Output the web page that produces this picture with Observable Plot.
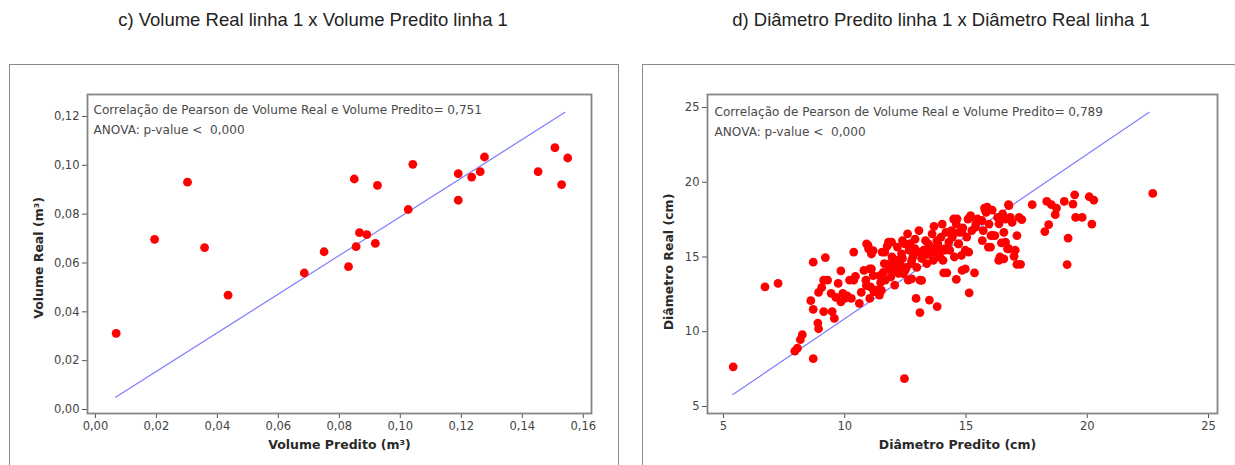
<!DOCTYPE html>
<html><head><meta charset="utf-8">
<script src="https://cdn.jsdelivr.net/npm/d3@7"></script>
<script src="https://cdn.jsdelivr.net/npm/@observablehq/plot@0.6"></script>
<style>
body{margin:0;background:#fff;}
#root{position:relative;width:1235px;height:465px;overflow:hidden;font-family:"Liberation Sans",Arial,sans-serif;background:#fff;}
.title{position:absolute;top:9px;font-size:18.5px;color:#222;white-space:nowrap;transform:translateX(-50%);}
.box{position:absolute;border:1.5px solid #8a8a8a;box-sizing:border-box;}
.plot{position:absolute;}
</style></head><body>
<div id="root">
 <div class="title" style="left:313px">c) Volume Real linha 1 x Volume Predito linha 1</div>
 <div class="title" style="left:941px">d) Diâmetro Predito linha 1 x Diâmetro Real linha 1</div>
 <div class="box" style="left:9px;top:64px;width:610px;height:420px"></div>
 <div class="box" style="left:642px;top:64px;width:620px;height:420px"></div>
 <div class="plot" id="p1" style="left:9px;top:65px"></div>
 <div class="plot" id="p2" style="left:642px;top:65px"></div>
</div>
<script>
// ---- Chart c) data ----
const volPred = [0.0068,0.0194,0.0302,0.0358,0.0435,0.0685,0.075,0.083,0.0849,0.0855,0.0866,0.089,0.0918,0.0925,0.1026,0.1041,0.119,0.119,0.1234,0.1262,0.1276,0.1452,0.1507,0.1529,0.1549];
const volReal = [0.0312,0.0697,0.0931,0.0663,0.0468,0.0559,0.0646,0.0585,0.0944,0.0667,0.0724,0.0716,0.068,0.0918,0.0819,0.1004,0.0966,0.0857,0.0952,0.0974,0.1034,0.0974,0.1072,0.0921,0.103];
const volFitX = [0.0066, 0.1540];
const volFitY = [0.0050, 0.1217];
const volTicksX = [0,0.02,0.04,0.06,0.08,0.10,0.12,0.14,0.16];
const volTicksY = [0,0.02,0.04,0.06,0.08,0.10,0.12];
const volNote = "Correlação de Pearson de Volume Real e Volume Predito= 0,751\nANOVA: p-value <  0,000";

// ---- Chart d) data ----
const diamPred = [5.40,6.71,7.25,7.94,8.05,8.17,8.25,8.6,8.7,8.7,
8.7,8.89,8.92,8.92,9.05,9.13,9.2,9.13,9.29,9.44,
9.48,9.57,9.63,9.73,9.84,9.84,9.92,10.0,10.1,10.2,
10.27,10.37,10.37,10.44,10.6,10.68,10.79,10.87,10.9,10.98,
11.03,11.06,11.1,11.1,11.2,11.35,11.43,11.48,11.54,11.59,
11.63,11.67,11.75,11.8,11.83,11.86,11.9,11.95,12.0,12.06,
12.1,12.14,12.17,12.22,12.3,12.38,12.38,12.46,12.49,12.54,
12.59,12.62,12.65,12.7,12.75,12.81,12.9,12.94,12.97,13.02,
13.06,13.1,13.1,13.17,13.25,13.33,13.38,13.44,13.49,13.54,
13.6,13.65,13.68,13.73,13.81,13.84,13.89,13.92,13.97,14.02,
14.05,14.08,14.13,14.17,14.21,14.29,14.33,14.4,14.44,14.49,
14.52,14.6,14.6,14.68,14.71,14.81,14.84,14.87,14.97,15.03,
15.08,15.13,15.19,15.24,15.35,15.4,15.48,15.6,15.67,15.71,
15.76,15.83,15.92,15.95,16.03,16.08,16.19,16.3,16.35,16.4,
16.46,16.51,16.56,16.62,16.71,16.75,16.83,16.9,16.98,17.03,
17.1,17.1,17.19,17.25,17.3,17.73,18.25,18.33,18.41,18.52,
18.68,18.73,19.05,19.21,19.17,19.41,19.48,19.52,19.79,20.08,
20.19,20.27,22.7,
10.96,11.17,11.03,11.17,10.89,11.44,11.65,11.93,12.07,12.21,
12.34,12.48,12.76,12.9,13.25,13.45,13.66,13.8,13.93,14.14,
14.42,14.63,14.7,14.83,14.97,15.11,15.18,15.39,15.66,15.8,
15.87,16.08,16.01,16.36,16.49,16.77,16.63,16.56,16.77,13.17,
12.76,12.42,11.51,11.31];
const diamReal = [7.65,13.0,13.23,8.7,8.9,9.47,9.8,12.08,11.5,14.65,
8.2,10.58,10.2,12.63,12.96,13.45,14.96,11.35,13.45,12.57,
11.35,10.9,12.3,13.23,14.07,12.0,12.57,12.23,12.4,13.45,
12.23,15.33,13.45,13.7,11.9,12.63,14.1,13.45,15.88,15.55,
12.23,13.0,14.2,15.2,12.67,12.8,12.45,13.3,15.33,13.97,
14.56,13.45,15.73,16.0,14.2,14.56,13.67,15.0,14.1,13.12,
14.3,14.78,15.66,13.9,14.45,16.1,14.9,6.86,14.1,14.3,
16.55,13.45,15.45,15.9,14.56,15.0,16.2,12.23,14.3,15.33,
16.77,13.45,11.28,14.9,15.45,16.1,14.56,15.17,12.12,15.66,
16.55,14.78,17.05,15.33,11.68,15.88,15.0,15.55,16.33,17.2,
14.78,13.94,15.45,16.65,13.94,16.0,15.45,16.77,16.33,17.54,
15.0,13.5,17.2,15.88,16.65,15.1,14.1,16.95,15.45,16.33,
17.54,12.6,17.77,16.77,13.94,17.2,17.54,17.43,16.1,16.77,
18.27,17.99,15.66,17.2,16.43,18.14,16.43,17.65,14.78,15.0,
15.95,17.88,16.65,17.54,15.55,18.5,17.65,17.32,15.04,15.45,
16.43,14.51,17.65,14.51,17.5,18.5,16.7,18.72,17.17,18.5,
17.83,18.27,18.72,16.26,14.49,18.54,19.16,17.65,17.65,19.03,
17.2,18.81,19.25,
15.77,15.43,14.21,13.76,13.09,13.76,15.32,15.99,14.77,14.32,
15.21,15.88,14.77,15.55,15.1,15.88,15.43,16.1,14.99,15.55,
16.44,17.55,15.88,16.66,14.21,15.32,17.66,16.99,17.44,18.11,
18.33,16.44,15.66,17.22,17.66,18.44,15.99,14.88,15.55,13.43,
13.54,13.88,12.76,12.76];
const diamFitX = [5.39, 22.55];
const diamFitY = [5.80, 24.68];
const diamTicks = [5,10,15,20,25];
const diamNote = "Correlação de Pearson de Volume Real e Volume Predito= 0,789\nANOVA: p-value <  0,000";

function scatter(o) {
  const idx = d3.range(o.xs.length);
  return Plot.plot({
    width: o.width, height: 400,
    marginLeft: o.marginLeft, marginRight: o.marginRight, marginTop: 29, marginBottom: 52,
    style: {fontFamily: "DejaVu Sans", fontSize: "11.5px", color: "#444", background: "transparent", overflow: "visible"},
    x: {domain: o.xDomain},
    y: {domain: o.yDomain},
    marks: [
      Plot.axisX({ticks: o.xTicks, tickSize: 5, tickPadding: 3, tickFormat: o.fmt, label: null, stroke: "#555", fill: "#444"}),
      Plot.axisY({ticks: o.yTicks, tickSize: 5, tickPadding: 3, tickFormat: o.fmt, label: null, stroke: "#555", fill: "#444"}),
      Plot.line(d3.range(o.fitX.length), {x: i => o.fitX[i], y: i => o.fitY[i], stroke: "#7f7fff", strokeWidth: 1.2}),
      Plot.dot(idx, {x: i => o.xs[i], y: i => o.ys[i], r: 4.4, fill: "#ff0000", stroke: "none"}),
      Plot.frame({stroke: "#858585", strokeWidth: 1.8}),
      Plot.text([o.note], {text: d => d, frameAnchor: "top-left", dx: o.noteDx, dy: o.noteDy, lineAnchor: "top", textAnchor: "start", lineHeight: 1.65, fill: "#4a4a4a", fontSize: 12.1}),
      Plot.text([o.xLabel], {text: d => d, frameAnchor: "bottom", dx: o.xLabelDx, dy: 27, lineAnchor: "top", textAnchor: "middle", fontWeight: "bold", fontSize: 12.5, fill: "#2a2a2a"}),
      Plot.text([o.yLabel], {text: d => d, frameAnchor: "left", dx: o.yLabelDx, dy: o.yLabelDy, rotate: -90, lineAnchor: "middle", textAnchor: "middle", fontWeight: "bold", fontSize: 12.5, fill: "#2a2a2a"})
    ]
  });
}

const commaFmt2 = d => d.toFixed(2).replace(".", ",");

document.getElementById("p1").append(scatter({
  xs: volPred, ys: volReal, fitX: volFitX, fitY: volFitY,
  width: 609, marginLeft: 78, marginRight: 27,
  xDomain: [-0.0026, 0.1627], yDomain: [-0.00164, 0.1290],
  xTicks: volTicksX, yTicks: volTicksY, fmt: commaFmt2,
  note: volNote, noteDx: 6, noteDy: 5,
  xLabel: "Volume Predito (m³)", xLabelDx: 0,
  yLabel: "Volume Real (m³)", yLabelDx: -49, yLabelDy: 4
}));

document.getElementById("p2").append(scatter({
  xs: diamPred, ys: diamReal, fitX: diamFitX, fitY: diamFitY,
  width: 593, marginLeft: 65, marginRight: 18,
  xDomain: [4.34, 25.37], yDomain: [4.53, 25.87],
  xTicks: diamTicks, yTicks: diamTicks, fmt: d => String(d),
  note: diamNote, noteDx: 7, noteDy: 7,
  xLabel: "Diâmetro Predito (cm)", xLabelDx: -5,
  yLabel: "Diâmetro Real (cm)", yLabelDx: -39, yLabelDy: 8
}));
</script>
</body></html>
